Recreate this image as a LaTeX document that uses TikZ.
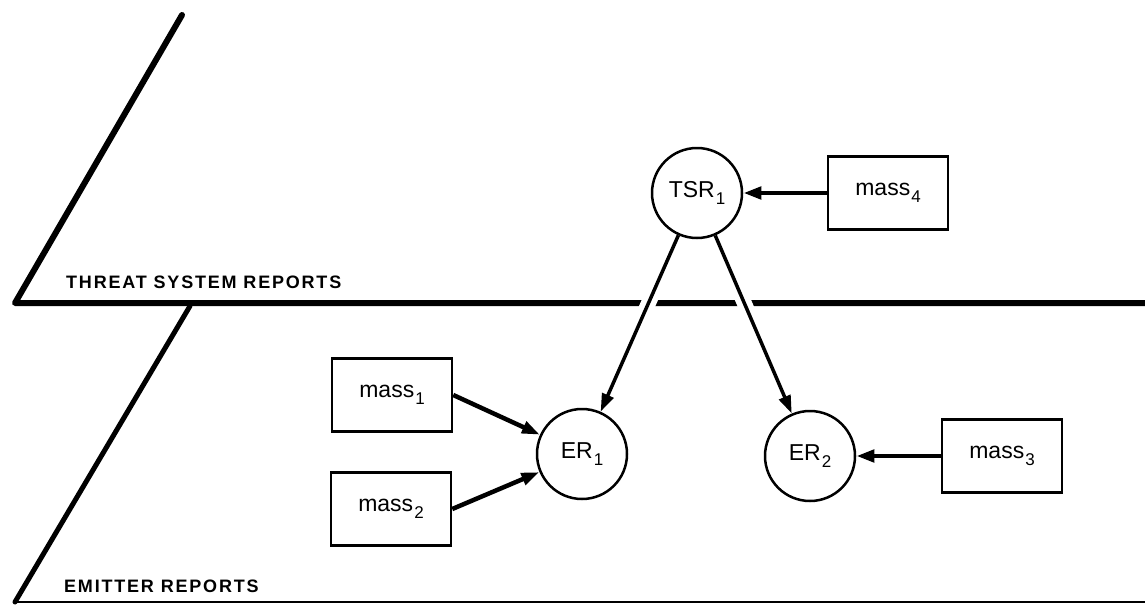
\documentclass[tikz,border=0pt]{standalone}
\usepackage{fontspec}
\setmainfont{Liberation Sans}
\newfontfamily\planefont{Liberation Sans}[LetterSpace=10]
\usetikzlibrary{arrows.meta}
% lowered index digit used in the node names
\newcommand{\lowidx}[1]{\kern1pt\raisebox{-7pt}{\fontsize{17}{17}\selectfont #1}}

\begin{document}
\begin{tikzpicture}[x=1pt,y=-1pt,
  report/.style={circle, draw, line width=2.5pt, minimum size=90pt, inner sep=0pt,
    font=\fontsize{23}{23}\selectfont},
  massbox/.style={rectangle, draw, line width=2.5pt, minimum width=120pt,
    minimum height=73pt, inner sep=0pt, font=\fontsize{23}{23}\selectfont},
  plane/.style={line width=6pt, line cap=round, line join=round},
  flow/.style={line width=3.5pt, -{Triangle[length=18pt,width=12pt]}},
  feed/.style={line width=4.5pt, -{Triangle[length=18pt,width=12pt]}},
  halo/.style={white, line width=15pt},
  planelabel/.style={anchor=base west, inner sep=0pt,
    font=\planefont\bfseries\fontsize{18}{18}\selectfont}
]
\useasboundingbox (0,0) rectangle (1145,605);

% the two report planes
\coordinate (tA) at (182,15);
\coordinate (tB) at (15,303);
\coordinate (tC) at (1145,303);
\coordinate (bA) at (190,306);
\coordinate (bB) at (15,602);
\coordinate (bC) at (1145,602);
\draw[plane] (tA) -- (tB) -- (tC);
\draw[line width=5pt, line cap=round] (bA) -- (bB);
\draw[line width=2.5pt] (bB) -- (bC);

\node[planelabel] (tlabel) at (66,288) {THREAT SYSTEM REPORTS};
\node[planelabel] (elabel) at (64,592) {EMITTER REPORTS};

% reports and mass assignments
\node[report] (tsr) at (697,193) {TSR\lowidx{1}};
\node[report] (er1) at (582,454) {ER\lowidx{1}};
\node[report] (er2) at (810,456) {ER\lowidx{2}};
\node[massbox] (m4) at (888,193) {mass\lowidx{4}};
\node[massbox] (m1) at (392,395) {mass\lowidx{1}};
\node[massbox] (m2) at (391,509) {mass\lowidx{2}};
\node[massbox] (m3) at (1002,456) {mass\lowidx{3}};

% gaps in the plane edge where the links cross it
\begin{scope}
  \clip (600,295) rectangle (800,312);
  \draw[halo] (tsr) -- (er1);
  \draw[halo] (tsr) -- (er2);
\end{scope}

% links
\draw[flow] (tsr) -- (er1);
\draw[flow] (tsr) -- (er2);
\draw[feed] (m4) -- (tsr);
\draw[feed] (m3) -- (er2);
\draw[feed] (m1.east) -- (er1);
\draw[feed] (m2.east) -- (er1);
\end{tikzpicture}
\end{document}
